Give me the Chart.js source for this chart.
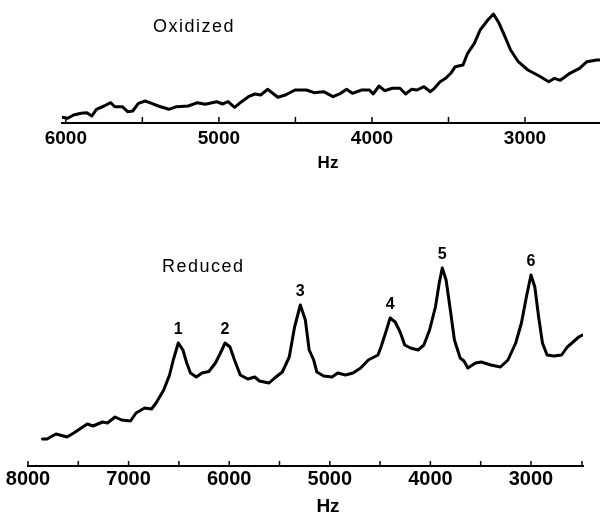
<!DOCTYPE html>
<html>
<head>
<meta charset="utf-8">
<script src="https://cdn.jsdelivr.net/npm/chart.js@4.4.1/dist/chart.umd.min.js"></script>
<style>
  html, body { margin: 0; padding: 0; background: #fff; }
  #wrap { position: relative; width: 600px; height: 515px; overflow: hidden; }
  .panel { position: absolute; left: 0; }
  #top { top: 0; }
  #bottom { top: 240px; }
</style>
</head>
<body>
<div id="wrap">
  <div class="panel" id="top"><canvas id="oxChart" width="600" height="175"></canvas></div>
  <div class="panel" id="bottom"><canvas id="redChart" width="600" height="275"></canvas></div>
</div>
<script>
// Oxidized trace: frequency (Hz) and intensity (arbitrary units)
const oxHz = [6025, 5987, 5950, 5900, 5863, 5830, 5800, 5750, 5706, 5680, 5631, 5596, 5563, 5526, 5481, 5439, 5396, 5327, 5277, 5201, 5139, 5090, 5014, 4977, 4940, 4897, 4852, 4807, 4765, 4727, 4682, 4648, 4615, 4565, 4503, 4428, 4378, 4316, 4254, 4204, 4166, 4128, 4067, 4016, 3992, 3954, 3917, 3867, 3817, 3780, 3742, 3705, 3660, 3618, 3592, 3555, 3518, 3485, 3456, 3405, 3375, 3331, 3293, 3243, 3206, 3169, 3131, 3094, 3044, 2981, 2907, 2845, 2807, 2769, 2707, 2644, 2595, 2532, 2512];
const oxInt = [5.7, 4.7, 8, 9.7, 10.3, 7, 13.7, 17, 20.3, 16.3, 16.3, 11.3, 12, 19.7, 22, 19.7, 17, 13.7, 16.3, 17, 20.3, 18.7, 21.3, 19, 21.3, 15.7, 21.3, 26.3, 29, 28, 33.7, 29.7, 25.7, 28, 33, 33, 30.3, 31.3, 26.3, 29.7, 33.7, 29.7, 33, 33, 29, 37, 32.3, 34.7, 34.7, 29, 33.7, 33, 36.3, 31.3, 34.7, 41.3, 44.7, 49.7, 56.3, 58, 69.7, 79.7, 93, 103, 109, 99.7, 86.3, 73, 61.3, 53, 47, 41.3, 44.7, 42.7, 49.7, 54.7, 61.3, 63, 63];

// Reduced trace
const redHz = [7856, 7811, 7722, 7612, 7545, 7411, 7354, 7259, 7210, 7135, 7070, 6981, 6926, 6841, 6772, 6727, 6651, 6593, 6556, 6506, 6460, 6422, 6385, 6327, 6270, 6202, 6137, 6087, 6041, 5992, 5947, 5890, 5814, 5746, 5700, 5604, 5548, 5472, 5403, 5350, 5293, 5243, 5205, 5160, 5129, 5061, 4978, 4921, 4844, 4769, 4693, 4617, 4521, 4491, 4446, 4400, 4350, 4301, 4255, 4198, 4122, 4065, 4008, 3950, 3912, 3882, 3844, 3806, 3761, 3704, 3666, 3628, 3552, 3494, 3400, 3304, 3229, 3152, 3095, 3046, 3000, 2962, 2924, 2886, 2840, 2772, 2696, 2639, 2582, 2525, 2487];
const redInt = [27, 27, 32, 29, 33, 42, 40, 44, 43, 49, 46, 45, 53, 58, 57, 63, 76, 91, 106, 123, 116, 103, 93, 89, 93, 94.5, 103, 113, 123, 119, 106, 91, 87, 89, 85, 83, 88, 94, 109, 139, 161, 146, 116, 106, 94, 90, 89, 93, 91, 93, 98, 106, 111, 119, 133, 148, 144, 134, 121, 118, 116, 121, 136, 159, 183, 198, 186, 159, 126, 108, 105, 98, 103, 104, 101, 99, 106, 123, 143, 169, 191, 179, 149, 123, 111, 110, 111, 119, 124, 129, 131];

// numbered peaks of the reduced spectrum
const peakNames = ['1', '2', '3', '4', '5', '6'];
const peakHz = [6506, 6041, 5293, 4400, 3882, 3000];

// axis ticks (every 500 Hz, labelled every 1000 Hz)
const oxTicks = [6000, 5500, 5000, 4500, 4000, 3500, 3000];
const redTicks = [8000, 7500, 7000, 6500, 6000, 5500, 5000, 4500, 4000, 3500, 3000];

const FONT = "'Liberation Sans', Arial, sans-serif";

const decor = {
  id: 'decor',
  afterDraw(chart, args, o) {
    const ctx = chart.ctx;
    const xs = chart.scales.x, ys = chart.scales.y;
    const a = chart.chartArea;
    ctx.save();
    ctx.strokeStyle = '#000';
    ctx.fillStyle = '#000';
    ctx.lineWidth = 1.5;
    const ticks = xs.ticks.map(t => xs.getPixelForValue(t.value));
    if (o.endTick) ticks.push(a.right - 1);
    ticks.forEach(px => {
      ctx.beginPath();
      ctx.moveTo(px, a.bottom);
      ctx.lineTo(px, a.bottom - o.tickLen);
      ctx.stroke();
    });

    // panel name
    ctx.font = o.labelFont;
    ctx.letterSpacing = '1.5px';
    ctx.textAlign = 'left';
    ctx.textBaseline = 'alphabetic';
    ctx.fillText(o.label, o.labelX, o.labelY);
    ctx.letterSpacing = '0px';

    // unit
    ctx.font = o.unitFont;
    ctx.textAlign = 'center';
    ctx.textBaseline = 'middle';
    ctx.fillText('Hz', o.unitX, a.bottom + o.unitDy);

    // peak numbers
    if (o.peaks) {
      ctx.font = 'bold 16px ' + FONT;
      o.peaks.forEach(p => {
        const i = redHz.indexOf(p.hz);
        ctx.fillText(p.name, xs.getPixelForValue(p.hz), ys.getPixelForValue(redInt[i]) - 13);
      });
    }
    ctx.restore();
  }
};

function makeChart(id, hz, inten, cfg) {
  return new Chart(document.getElementById(id), {
    type: 'line',
    data: {
      datasets: [{
        data: hz.map((h, i) => ({ x: h, y: inten[i] })),
        borderColor: '#000',
        borderWidth: 3,
        borderJoinStyle: 'round',
        borderCapStyle: 'round',
        pointRadius: 0,
        tension: 0,
        fill: false
      }]
    },
    options: {
      responsive: false,
      animation: false,
      layout: { padding: cfg.padding },
      plugins: { legend: { display: false }, tooltip: { enabled: false }, decor: cfg.decor },
      scales: {
        x: {
          type: 'linear',
          reverse: true,
          min: cfg.min,
          max: cfg.max,
          afterBuildTicks: s => { s.ticks = cfg.ticks.map(v => ({ value: v })); },
          afterFit: s => { s.height = cfg.axisHeight; },
          grid: { display: false },
          border: { display: true, color: '#000', width: 2 },
          ticks: {
            autoSkip: false,
            maxRotation: 0,
            padding: cfg.tickPad,
            color: '#000',
            font: { family: FONT, size: cfg.tickSize, weight: 'bold' },
            callback: v => (v % 1000 === 0 ? String(v) : '')
          }
        },
        y: { display: false, min: 0, max: cfg.ymax }
      }
    },
    plugins: [decor]
  });
}

makeChart('oxChart', oxHz, oxInt, {
  min: 2510, max: 6025, ticks: oxTicks, ymax: 118,
  padding: { left: 62, right: 0, top: 5, bottom: 0 },
  axisHeight: 52, tickPad: -4, tickSize: 19,
  decor: {
    tickLen: 6, label: 'Oxidized', labelX: 153, labelY: 32,
    labelFont: '18px ' + FONT, unitFont: 'bold 17px ' + FONT, unitX: 328, unitDy: 40
  }
});

makeChart('redChart', redHz, redInt, {
  min: 2483, max: 8000, ticks: redTicks, ymax: 216,
  padding: { left: 28, right: 17, top: 10, bottom: 0 },
  axisHeight: 49, tickPad: -7, tickSize: 20,
  decor: {
    tickLen: 5, endTick: true, label: 'Reduced', labelX: 162, labelY: 32,
    labelFont: '18px ' + FONT, unitFont: 'bold 19px ' + FONT, unitX: 328, unitDy: 41,
    peaks: peakNames.map((n, i) => ({ name: n, hz: peakHz[i] }))
  }
});
</script>
</body>
</html>
